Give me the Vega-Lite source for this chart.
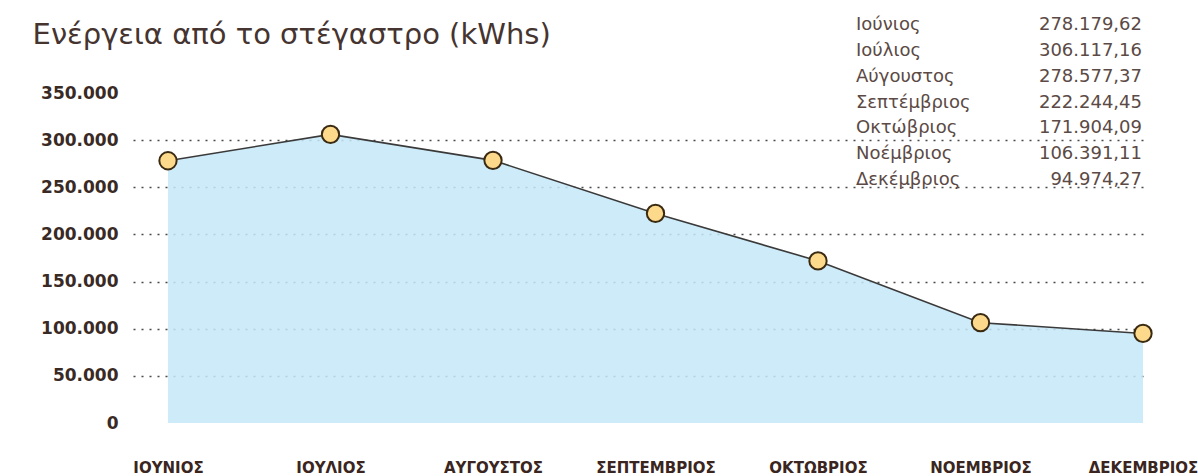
{
  "$schema": "https://vega.github.io/schema/vega-lite/v6.json",
  "width": 1012,
  "height": 330,
  "autosize": {"type": "none"},
  "padding": {"left": 133, "top": 93, "right": 53, "bottom": 53},
  "background": "white",
  "config": {
    "view": {"stroke": null},
    "locale": {"number": {"decimal": ",", "thousands": ".", "grouping": [3], "currency": ["", " €"]}}
  },
  "title": {
    "text": "Ενέργεια από το στέγαστρο (kWhs)",
    "anchor": "start",
    "frame": "bounds",
    "font": "DejaVu Sans",
    "fontSize": 29,
    "fontWeight": "normal",
    "color": "#45342f",
    "offset": -34,
    "dx": -8
  },
  "data": {
    "values": [
      {"m": "ΙΟΥΝΙΟΣ", "gr": "Ιούνιος", "v": 278179.62},
      {"m": "ΙΟΥΛΙΟΣ", "gr": "Ιούλιος", "v": 306117.16},
      {"m": "ΑΥΓΟΥΣΤΟΣ", "gr": "Αύγουστος", "v": 278577.37},
      {"m": "ΣΕΠΤΕΜΒΡΙΟΣ", "gr": "Σεπτέμβριος", "v": 222244.45},
      {"m": "ΟΚΤΩΒΡΙΟΣ", "gr": "Οκτώβριος", "v": 171904.09},
      {"m": "ΝΟΕΜΒΡΙΟΣ", "gr": "Νοέμβριος", "v": 106391.11},
      {"m": "ΔΕΚΕΜΒΡΙΟΣ", "gr": "Δεκέμβριος", "v": 94974.27}
    ]
  },
  "encoding": {
    "x": {
      "field": "m",
      "type": "ordinal",
      "sort": null,
      "scale": {"type": "point", "padding": 0.1138, "align": 0.946},
      "axis": {
        "title": null,
        "labelAngle": 0,
        "domain": false,
        "ticks": false,
        "grid": false,
        "labelPadding": 37,
        "labelFont": "DejaVu Sans",
        "labelFontSize": 15,
        "labelFontWeight": "bold",
        "labelColor": "#3a2520",
        "labelOverlap": false,
        "labelBound": false
      }
    }
  },
  "layer": [
    {
      "encoding": {
        "y": {
          "field": "v",
          "type": "quantitative",
          "scale": {"domain": [0, 350000], "nice": false},
          "axis": {
            "title": null,
            "values": [0, 50000, 100000, 150000, 200000, 250000, 300000, 350000],
            "format": ",.0f",
            "domain": false,
            "ticks": false,
            "labelPadding": 15,
            "labelFont": "DejaVu Sans",
            "labelFontSize": 17,
            "labelFontWeight": "bold",
            "labelColor": "#3a2a25",
            "grid": true,
            "gridColor": "#4a4a4a",
            "gridWidth": 1.5,
            "gridDash": [2, 6],
            "gridOpacity": {"condition": {"test": "datum.value === 0 || datum.value === 350000", "value": 0}, "value": 1}
          }
        }
      },
      "layer": [
        {"mark": {"type": "area", "color": "#c6e7f8", "opacity": 0.85}},
        {"mark": {"type": "line", "color": "#3a3a3a", "strokeWidth": 1.6}},
        {"mark": {"type": "point", "filled": true, "fill": "#fdd98c", "stroke": "#3b2a12", "strokeWidth": 2, "size": 300, "opacity": 1}}
      ]
    },
    {
      "encoding": {
        "y": {
          "field": "gr",
          "type": "ordinal",
          "sort": null,
          "scale": {"type": "point", "range": [-68, 87], "padding": 0},
          "axis": null
        }
      },
      "layer": [
        {
          "mark": {"type": "text", "align": "left", "baseline": "middle", "font": "DejaVu Sans", "fontSize": 18, "color": "#5b4a45", "dx": 38},
          "encoding": {"x": {"datum": "ΟΚΤΩΒΡΙΟΣ"}, "text": {"field": "gr"}}
        },
        {
          "mark": {"type": "text", "align": "right", "baseline": "middle", "font": "DejaVu Sans", "fontSize": 18, "color": "#5b4a45", "dx": -1},
          "encoding": {"x": {"datum": "ΔΕΚΕΜΒΡΙΟΣ"}, "text": {"field": "v", "format": ",.2f"}}
        }
      ]
    }
  ],
  "resolve": {"scale": {"y": "independent"}}
}
